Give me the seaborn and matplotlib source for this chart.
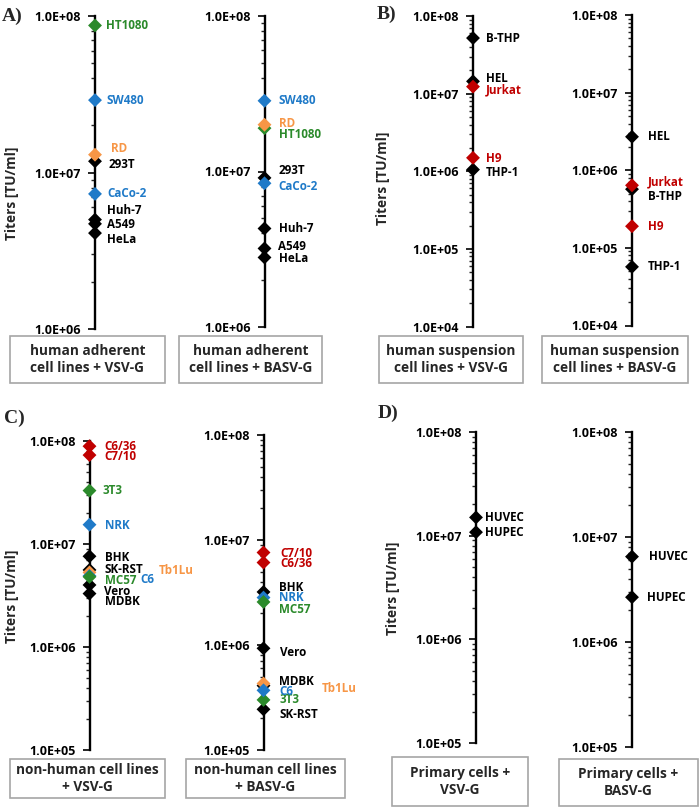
import numpy as np
import pandas as pd
import matplotlib
matplotlib.use('Agg')
import matplotlib.pyplot as plt
import seaborn as sns
from matplotlib.patches import Rectangle
from matplotlib.ticker import FuncFormatter, LogLocator, NullFormatter

# ---- data (titers in TU/ml) ----
adh_cells = ['HT1080', 'SW480', 'RD', '293T', 'CaCo-2', 'Huh-7', 'A549', 'HeLa']
adh_colors = ['green', 'blue', 'orange', 'black', 'blue', 'black', 'black', 'black']
adh_vsv = [8.7e7, 2.9e7, 1.3e7, 1.18e7, 7.3e6, 5.0e6, 4.7e6, 4.1e6]
adh_basv = [1.9e7, 2.85e7, 2.0e7, 9.1e6, 8.4e6, 4.3e6, 3.2e6, 2.8e6]

susp_cells = ['B-THP', 'HEL', 'Jurkat', 'H9', 'THP-1']
susp_colors = ['black', 'black', 'red', 'red', 'black']
susp_vsv = [5.2e7, 1.44e7, 1.23e7, 1.49e6, 1.05e6]
susp_basv = [5.7e5, 2.7e6, 6.4e5, 1.9e5, 5.7e4]

nh_cells = ['C6/36', 'C7/10', '3T3', 'NRK', 'BHK', 'SK-RST', 'Tb1Lu', 'C6', 'MC57', 'Vero', 'MDBK']
nh_colors = ['red', 'red', 'green', 'blue', 'black', 'black', 'orange', 'blue', 'green', 'black', 'black']
nh_vsv = [8.9e7, 7.3e7, 3.3e7, 1.54e7, 7.6e6, 5.6e6, 5.3e6, 4.9e6, 4.8e6, 4.0e6, 3.3e6]
nh_basv = [6.1e6, 7.6e6, 3.0e5, 2.83e6, 3.2e6, 2.44e5, 4.3e5, 3.7e5, 2.57e6, 9.3e5, 4.1e5]

prim_cells = ['HUVEC', 'HUPEC']
prim_colors = ['black', 'black']
prim_vsv = [1.5e7, 1.08e7]
prim_basv = [6.5e6, 2.67e6]

palette = {'green': '#2b8a2b', 'blue': '#1f7ac8', 'orange': '#f79646',
           'red': '#c00000', 'black': '#000000'}

sns.set_style('white')
plt.rcParams['font.family'] = ['Open Sans', 'DejaVu Sans']
plt.rcParams['font.weight'] = 'bold'

W, H = 700, 808
fig = plt.figure(figsize=(7, 8.08), dpi=100)


def sub_axes(x, top, bottom, width=90):
    return fig.add_axes([x / W, 1 - bottom / H, width / W, (bottom - top) / H])


def draw_panel(ax, cells, colors, values, lo, hi, offsets):
    df = pd.DataFrame({'cell': cells, 'col': colors, 'titer': values})
    df['pos'] = 0.0
    # black markers underneath the coloured ones
    df['layer'] = (df['col'] != 'black').astype(int)
    df = df.sort_values('layer', kind='stable')
    sns.scatterplot(data=df, x='pos', y='titer', hue='col', palette=palette,
                    marker='D', s=50, linewidth=0, legend=False, ax=ax,
                    clip_on=False, zorder=3)
    ax.set_yscale('log')
    ax.set_ylim(lo, hi)
    ax.set_xlim(0, 1)
    for s in ['top', 'right', 'bottom']:
        ax.spines[s].set_visible(False)
    ax.spines['left'].set_linewidth(1.7)
    ax.spines['left'].set_color('black')
    ax.set_xticks([])
    ax.set_xlabel('')
    ax.set_ylabel('')
    ax.yaxis.set_major_locator(LogLocator(base=10, numticks=10))
    ax.yaxis.set_minor_locator(LogLocator(base=10, subs=np.arange(2, 10), numticks=20))
    ax.yaxis.set_minor_formatter(NullFormatter())
    ax.yaxis.set_major_formatter(FuncFormatter(lambda v, p: f'{v:.1E}'))
    ax.tick_params(axis='y', which='major', length=5, width=1.2, direction='out',
                   left=True, labelsize=9, pad=5, colors='black')
    ax.tick_params(axis='y', which='minor', length=3, width=1, direction='out', left=True)
    for lab in ax.get_yticklabels():
        lab.set_fontweight('bold')
    for name, col, v in zip(cells, colors, values):
        dx, dy = offsets.get(name, (14, 0))
        ax.annotate(name, xy=(0, v), xytext=(dx, -dy), textcoords='offset pixels',
                    color=palette[col], fontsize=8.4, fontweight='bold',
                    ha='left', va='center', annotation_clip=False)


# label offsets (pixels right of axis, pixels below marker)
off_a1 = {'HT1080': (11, 0), 'SW480': (12, 0), 'RD': (16, -6), '293T': (14, 3),
          'CaCo-2': (12, 0), 'Huh-7': (12, -9), 'A549': (12, 1), 'HeLa': (12, 6)}
off_a2 = {'SW480': (14, 0), 'RD': (14, -1), 'HT1080': (14, 6), '293T': (14, -7),
          'CaCo-2': (14, 3), 'Huh-7': (14, 0), 'A549': (14, -2), 'HeLa': (14, 1)}
off_b1 = {'B-THP': (13, 0), 'HEL': (13, -3), 'Jurkat': (13, 3), 'H9': (13, 1), 'THP-1': (13, 3)}
off_b2 = {'HEL': (16, 0), 'Jurkat': (16, -3), 'B-THP': (16, 7), 'H9': (16, 0), 'THP-1': (16, 0)}
off_c1 = {'C6/36': (15, 0), 'C7/10': (15, 1), '3T3': (13, 0), 'NRK': (15, 1), 'BHK': (15, 1),
          'SK-RST': (15, 0), 'Tb1Lu': (69, -2), 'C6': (51, 4), 'MC57': (15, 4),
          'Vero': (15, 7), 'MDBK': (15, 8)}
off_c2 = {'C7/10': (17, 1), 'C6/36': (17, 1), 'BHK': (16, -4), 'NRK': (16, 0), 'MC57': (16, 8),
          'Vero': (17, 4), 'MDBK': (16, -4), 'Tb1Lu': (58, 5), 'C6': (16, 1), '3T3': (16, 0),
          'SK-RST': (16, 5)}
off_d1 = {'HUVEC': (9, 0), 'HUPEC': (9, 0)}
off_d2 = {'HUVEC': (17, 0), 'HUPEC': (15, 0)}

draw_panel(sub_axes(95, 16, 329), adh_cells, adh_colors, adh_vsv, 1e6, 1e8, off_a1)
draw_panel(sub_axes(264.5, 16, 327), adh_cells, adh_colors, adh_basv, 1e6, 1e8, off_a2)
draw_panel(sub_axes(473, 16, 326.5), susp_cells, susp_colors, susp_vsv, 1e4, 1e8, off_b1)
draw_panel(sub_axes(632, 15, 325.5), susp_cells, susp_colors, susp_basv, 1e4, 1e8, off_b2)
draw_panel(sub_axes(89.5, 441, 750), nh_cells, nh_colors, nh_vsv, 1e5, 1e8, off_c1)
draw_panel(sub_axes(263.5, 435, 750), nh_cells, nh_colors, nh_basv, 1e5, 1e8, off_c2)
draw_panel(sub_axes(476, 432, 743), prim_cells, prim_colors, prim_vsv, 1e5, 1e8, off_d1)
draw_panel(sub_axes(632, 432, 747), prim_cells, prim_colors, prim_basv, 1e5, 1e8, off_d2)

# boxed captions under each axis
boxes = [((10, 336, 165, 383), 'human adherent\ncell lines + VSV-G'),
         ((179, 336, 322, 383), 'human adherent\ncell lines + BASV-G'),
         ((379, 336, 523, 383), 'human suspension\ncell lines + VSV-G'),
         ((542, 336, 688, 383), 'human suspension\ncell lines + BASV-G'),
         ((10, 759, 165, 798), 'non-human cell lines\n+ VSV-G'),
         ((186, 759, 345, 798), 'non-human cell lines\n+ BASV-G'),
         ((392, 757, 528, 806), 'Primary cells +\nVSV-G'),
         ((559, 759, 698, 806), 'Primary cells +\nBASV-G')]
for (x0, y0, x1, y1), txt in boxes:
    fig.patches.append(Rectangle((x0 / W, 1 - y1 / H), (x1 - x0) / W, (y1 - y0) / H,
                                 transform=fig.transFigure, facecolor='white',
                                 edgecolor='#a6a6a6', linewidth=1.2))
    fig.text((x0 + x1) / 2 / W, 1 - (y0 + y1) / 2 / H, txt, ha='center', va='center',
             fontsize=9.8, fontweight='bold', linespacing=1.25)

# y-axis titles
for x, y in [(12, 193), (383, 178), (12, 596), (393, 588)]:
    fig.text(x / W, 1 - y / H, 'Titers [TU/ml]', rotation=90, ha='center', va='center',
             fontsize=9.8, fontweight='bold')

# panel letters
for x, y, t in [(2, 16, 'A)'), (377, 14, 'B)'), (4, 418, 'C)'), (378, 413, 'D)')]:
    fig.text(x / W, 1 - y / H, t, ha='left', va='center', fontsize=14,
             fontweight='bold', family='Liberation Serif')

fig.savefig('out.png', dpi=100)
